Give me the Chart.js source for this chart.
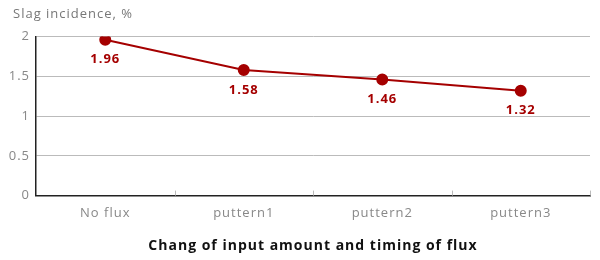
<!DOCTYPE html>
<html>
<head>
<meta charset="utf-8">
<script src="https://cdn.jsdelivr.net/npm/chart.js@4"></script>
<style>
  body { margin: 0; background: #fff; }
</style>
</head>
<body>
<canvas id="myChart" width="600" height="260"></canvas>
<script>
const categories = ["No flux", "puttern1", "puttern2", "puttern3"];
const slagValues = [1.96, 1.58, 1.46, 1.32];
const yTicks = [0, 0.5, 1, 1.5, 2];

const lineColor = "#a50000";

// labels under each point + small inward ticks on the x axis
const extras = {
  id: "extras",
  beforeInit(chart) {
    chart.ctx.letterSpacing = "1px";
  },
  afterLayout(chart) {
    // nudge the top-left title a bit to the right
    if (chart.titleBlock) {
      chart.titleBlock.left += 5;
      chart.titleBlock.right += 5;
    }
  },
  beforeDraw(chart) {
    chart.ctx.letterSpacing = "1px";
  },
  afterDraw(chart) {
    const ctx = chart.ctx;
    const x = chart.scales.x;
    const area = chart.chartArea;
    ctx.save();
    ctx.strokeStyle = "#bbb";
    ctx.lineWidth = 1;
    for (let i = 1; i <= categories.length; i++) {
      let px = Math.round(x.getPixelForValue(i - 0.5)) + 0.5;
      ctx.beginPath();
      ctx.moveTo(px, area.bottom);
      ctx.lineTo(px, area.bottom - 5);
      ctx.stroke();
    }
    const meta = chart.getDatasetMeta(0);
    ctx.fillStyle = lineColor;
    ctx.font = "bold 13px 'Open Sans'";
    ctx.letterSpacing = "1px";
    ctx.textAlign = "center";
    ctx.textBaseline = "middle";
    meta.data.forEach((pt, i) => {
      ctx.fillText(slagValues[i].toFixed(2), pt.x, pt.y + 20);
    });
    ctx.restore();
  },
};

new Chart(document.getElementById("myChart"), {
  type: "line",
  data: {
    labels: categories,
    datasets: [
      {
        data: slagValues,
        borderColor: lineColor,
        backgroundColor: lineColor,
        borderWidth: 2,
        pointRadius: 5,
        pointHoverRadius: 5,
        tension: 0,
      },
    ],
  },
  options: {
    responsive: false,
    animation: false,
    layout: { padding: { left: 8, right: 10, top: 0, bottom: 6 } },
    plugins: {
      legend: { display: false },
      tooltip: { enabled: false },
      title: {
        display: true,
        text: "Slag incidence, %",
        align: "start",
        color: "#777",
        font: { family: "'Open Sans'", size: 13, weight: "normal" },
        padding: { top: 6, bottom: 15 },
      },
    },
    scales: {
      x: {
        offset: true,
        grid: { display: false },
        border: { display: true, color: "#222", width: 1.5 },
        ticks: {
          color: "#888",
          padding: 2,
          font: { family: "'Open Sans'", size: 13 },
        },
        title: {
          display: true,
          text: "Chang of input amount and timing of flux",
          color: "#111",
          font: { family: "'Open Sans'", size: 14, weight: "bold" },
          padding: { top: 14, bottom: 0 },
        },
      },
      y: {
        min: 0,
        max: 2,
        afterBuildTicks(scale) {
          scale.ticks = yTicks.map((v) => ({ value: v }));
        },
        afterFit(scale) {
          scale.width = 28;
        },
        grid: { color: "#bbb", drawTicks: false },
        border: { display: true, color: "#222", width: 1.5 },
        ticks: {
          color: "#888",
          padding: 6,
          font: { family: "'Open Sans'", size: 13 },
          callback: (v) => String(v),
        },
      },
    },
  },
  plugins: [extras],
});
</script>
</body>
</html>
